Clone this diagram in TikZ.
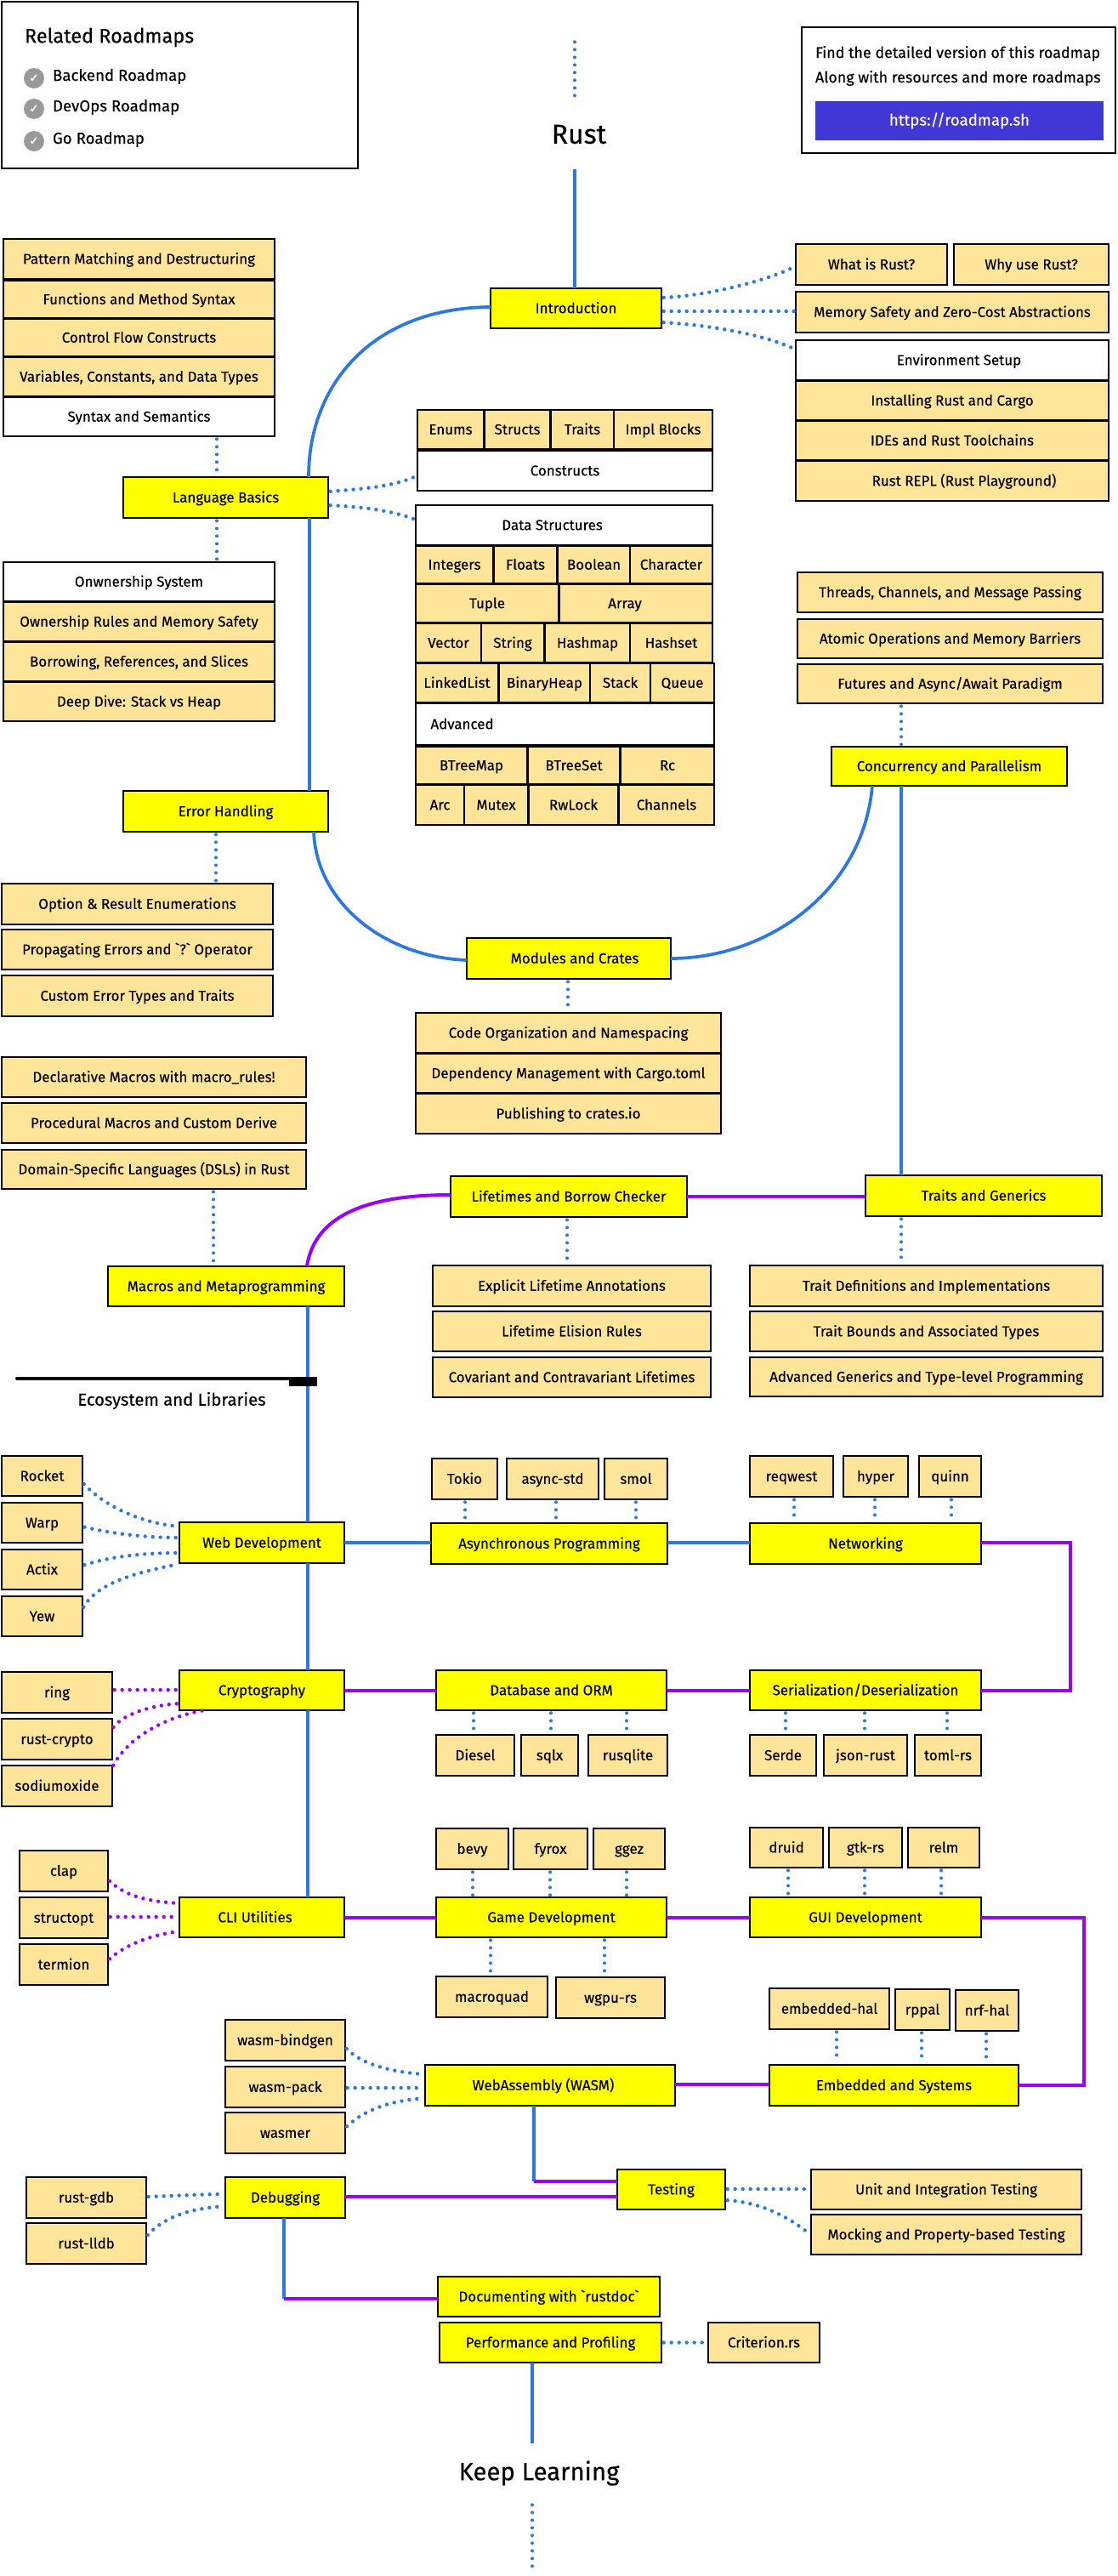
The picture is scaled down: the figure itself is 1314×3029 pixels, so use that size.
\documentclass[tikz,border=0pt]{standalone}
\usepackage{fontspec}
\newfontfamily\rf[FakeBold=0.25]{Fira Sans}
\newfontfamily\ckfont[FakeBold=1]{DejaVu Sans}
\definecolor{pch}{HTML}{FFE599}
\definecolor{yel}{HTML}{FFFF00}
\definecolor{blu}{HTML}{2B78E4}
\definecolor{pur}{HTML}{9900FF}
\definecolor{btn}{HTML}{4136D6}
\definecolor{chk}{HTML}{999999}
\newcommand\sh[1]{\kern\dimexpr 1.5pt*#1\relax}
\newcommand\bx[7]{%
  \pgfmathsetmacro\bw{(#4-#2)*0.75}%
  \pgfmathsetmacro\bh{(#5-#3)*0.75}%
  \node[#6,minimum width=\bw pt,minimum height=\bh pt] (#1) at ({(#2+#4)/2},{(#3+#5)/2}) {#7};}
\tikzset{
  basebox/.style={draw=black,line width=2pt,inner sep=0pt,outer sep=0pt,rectangle,font=\rf\fontsize{12.7}{14}\selectfont,text=black,text height=8.8pt,text depth=0.2pt},
  sub/.style={basebox,fill=pch},
  topbox/.style={basebox,fill=yel},
  wht/.style={basebox,fill=white},
  plain/.style={inner sep=0pt,outer sep=0pt,font=\rf\fontsize{14}{17}\selectfont,text=black},
  infotext/.style={plain,font=\rf\fontsize{13.4}{16}\selectfont},
  bline/.style={draw=blu,line width=2.8pt},
  pline/.style={draw=pur,line width=3pt},
  dv/.style={draw=blu,line width=3pt,line cap=round,dash pattern=on 0pt off 6.75pt,shorten <=2.5pt,shorten >=2pt},
  dcv/.style={draw=blu,line width=3.3pt,line cap=round,dash pattern=on 0pt off 6.75pt,shorten <=2pt,shorten >=1pt},
  pc/.style={draw=pur,line width=3.3pt,line cap=round,dash pattern=on 0pt off 6.75pt,shorten <=2pt,shorten >=1pt},
  tickmark/.style={circle,fill=chk,inner sep=0pt,outer sep=0pt,minimum size=18pt,text=white,font=\ckfont\fontsize{10}{10}\selectfont}
}
\begin{document}
\begin{tikzpicture}[x=0.75pt,y=-0.75pt]
\useasboundingbox[fill=white] (0,0) rectangle (1314,3029);
% blocks top
\bx{rel}{2}{2}{421}{198}{wht}{}
\node[plain,anchor=west,font=\rf\fontsize{17.6}{20}\selectfont] (relt) at (29,44) {Related Roadmaps};
\node[tickmark] (c1) at (40,92) {✓};
\node[tickmark] (c2) at (40,128) {✓};
\node[tickmark] (c3) at (40,166) {✓};
\node[plain,anchor=west] (r1) at (62,90) {Backend Roadmap};
\node[plain,anchor=west] (r2) at (62,126) {DevOps Roadmap};
\node[plain,anchor=west] (r3) at (62,164) {Go Roadmap};
\bx{info}{943}{32}{1312}{180}{wht}{}
\node[infotext,anchor=west] (i1) at (959,63) {Find the detailed version of this roadmap};
\node[infotext,anchor=west] (i2) at (959,92) {Along with resources and more roadmaps};
\bx{link}{959}{119}{1298}{165}{rectangle,fill=btn,inner sep=0pt,outer sep=0pt,text=white,font=\rf\fontsize{14}{17}\selectfont}{https://roadmap.sh}
\coordinate (rtop) at (676,46);
\coordinate (rbot) at (676,122);
\coordinate (rlow) at (676,199);
\node[plain,font=\rf\fontsize{24}{28}\selectfont] (rust) at (681,158) {Rust};
\draw[dv] (rtop) -- (rbot);
% main connectors behind boxes
\bx{intro}{577}{339}{778}{386}{topbox}{Introduction}
\draw[bline] (rlow) -- (rlow |- intro.north);
\bx{lang}{145}{561}{386}{609}{topbox}{Language Basics}
\bx{err}{145}{930}{386}{978}{topbox}{Error Handling}
\bx{mods}{549}{1103}{789}{1151}{topbox}{\sh{7}Modules and Crates}
\bx{conc}{978}{878}{1255}{924}{topbox}{Concurrency and Parallelism}
\bx{life}{530}{1383}{808}{1431}{topbox}{Lifetimes and Borrow Checker}
\bx{trai}{1018}{1382}{1296}{1430}{topbox}{Traits and Generics}
\bx{macr}{127}{1489}{405}{1536}{topbox}{Macros and Metaprogramming}
\draw[bline] (intro.west |- 0,361) .. controls (440,362) and (363,450) .. (363,0 |- lang.north);
\draw[bline] (364,0 |- lang.south) -- (364,0 |- err.north);
\draw[bline] (369,0 |- err.south) .. controls (372,1060) and (450,1125) .. (mods.west |- 0,1129);
\draw[bline] (1026,0 |- conc.south) .. controls (1015,1050) and (900,1127) .. (mods.east |- 0,1127);
\draw[bline] (1060,0 |- conc.south) -- (1060,0 |- trai.north);
\draw[pline] (361,0 |- macr.north) .. controls (370,1430) and (430,1405) .. (life.west |- 0,1405);
\draw[pline] (life.east |- 0,1407) -- (trai.west |- 0,1407);
% left column top
\bx{a1}{4}{281}{323}{328}{sub}{Pattern Matching and Destructuring}
\bx{a2}{4}{330}{323}{374}{sub}{Functions and Method Syntax}
\bx{a3}{4}{375}{323}{419}{sub}{Control Flow Constructs}
\bx{a4}{4}{420}{323}{466}{sub}{Variables, Constants, and Data Types}
\bx{a5}{4}{467}{323}{513}{wht}{Syntax and Semantics}
\bx{b1}{4}{661}{323}{707}{wht}{Onwnership System}
\bx{b2}{4}{708}{323}{754}{sub}{Ownership Rules and Memory Safety}
\bx{b3}{4}{755}{323}{801}{sub}{Borrowing, References, and Slices}
\bx{b4}{4}{802}{323}{848}{sub}{Deep Dive: Stack vs Heap}
\draw[dv] (255,0 |- a5.south) -- (255,0 |- lang.north);
\draw[dv] (255,0 |- lang.south) -- (255,0 |- b1.north);
% right top
\bx{w1}{936}{287}{1114}{335}{sub}{What is Rust?}
\bx{w2}{1122}{287}{1304}{335}{sub}{Why use Rust?}
\bx{w3}{936}{343}{1304}{391}{sub}{Memory Safety and Zero-Cost Abstractions}
\bx{w4}{936}{400}{1304}{447}{wht}{\sh{8}Environment Setup}
\bx{w5}{936}{448}{1304}{494}{sub}{Installing Rust and Cargo}
\bx{w6}{936}{495}{1304}{541}{sub}{IDEs and Rust Toolchains}
\bx{w7}{936}{542}{1304}{589}{sub}{\sh{14}Rust REPL (Rust Playground)}
\draw[dcv] (intro.east |- 0,350) .. controls (830,348) and (900,331) .. (w1.west |- 0,313);
\draw[dcv] (intro.east |- 0,366) -- (w3.west |- 0,366);
\draw[dcv] (intro.east |- 0,379) .. controls (830,382) and (895,392) .. (w4.west |- 0,411);
% threads
\bx{t1}{938}{673}{1297}{720}{sub}{Threads, Channels, and Message Passing}
\bx{t2}{938}{728}{1297}{774}{sub}{Atomic Operations and Memory Barriers}
\bx{t3}{938}{781}{1297}{827}{sub}{Futures and Async/Await Paradigm}
\draw[dv] (1060,0 |- t3.south) -- (1060,0 |- conc.north);
% constructs
\bx{e1}{491}{482}{569}{528}{sub}{Enums}
\bx{e2}{570}{482}{647}{528}{sub}{Structs}
\bx{e3}{648}{482}{722}{528}{sub}{Traits}
\bx{e4}{722}{482}{838}{528}{sub}{Impl Blocks}
\bx{cons}{491}{530}{838}{577}{wht}{Constructs}
\bx{ds}{489}{594}{838}{641}{wht}{\sh{-14}Data Structures}
\bx{d1}{489}{642}{580}{686}{sub}{Integers}
\bx{d2}{581}{642}{655}{686}{sub}{Floats}
\bx{d3}{656}{642}{741}{686}{sub}{Boolean}
\bx{d4}{741}{642}{838}{686}{sub}{Character}
\bx{d5}{489}{687}{657}{732}{sub}{Tuple}
\bx{d6}{658}{687}{838}{732}{sub}{\sh{-13}Array}
\bx{d7}{489}{733}{566}{779}{sub}{Vector}
\bx{d8}{566}{733}{640}{779}{sub}{String}
\bx{d9}{641}{733}{741}{779}{sub}{Hashmap}
\bx{d10}{741}{733}{838}{779}{sub}{Hashset}
\bx{d11}{489}{780}{586}{826}{sub}{LinkedList}
\bx{d12}{587}{780}{694}{826}{sub}{BinaryHeap}
\bx{d13}{694}{780}{765}{826}{sub}{Stack}
\bx{d14}{765}{780}{840}{826}{sub}{Queue}
\bx{adv}{489}{827}{840}{876}{wht}{\sh{-121}Advanced}
\bx{d15}{489}{878}{620}{922}{sub}{BTreeMap}
\bx{d16}{621}{878}{729}{922}{sub}{BTreeSet}
\bx{d17}{730}{878}{840}{922}{sub}{Rc}
\bx{d18}{489}{923}{546}{970}{sub}{Arc}
\bx{d19}{546}{923}{621}{970}{sub}{Mutex}
\bx{d20}{622}{923}{727}{970}{sub}{RwLock}
\bx{d21}{728}{923}{840}{970}{sub}{Channels}
\draw[dcv] (lang.east |- 0,578) .. controls (425,575) and (465,572) .. (cons.west |- 0,559);
\draw[dcv] (lang.east |- 0,594) .. controls (425,596) and (460,600) .. (ds.west |- 0,611);
% errors
\bx{f1}{2}{1039}{321}{1087}{sub}{Option \& Result Enumerations}
\bx{f2}{2}{1093}{321}{1140}{sub}{Propagating Errors and `?{}` Operator}
\bx{f3}{2}{1147}{321}{1195}{sub}{Custom Error Types and Traits}
\draw[dv] (254,0 |- err.south) -- (254,0 |- f1.north);
% modules
\bx{g1}{489}{1191}{848}{1238}{sub}{Code Organization and Namespacing}
\bx{g2}{489}{1239}{848}{1285}{sub}{Dependency Management with Cargo.toml}
\bx{g3}{489}{1286}{848}{1333}{sub}{Publishing to crates.io}
\draw[dv] (668,0 |- mods.south) -- (668,0 |- g1.north);
% macros
\bx{h1}{2}{1243}{360}{1290}{sub}{Declarative Macros with macro\_rules!}
\bx{h2}{2}{1297}{360}{1344}{sub}{Procedural Macros and Custom Derive}
\bx{h3}{2}{1352}{360}{1398}{sub}{Domain-Specific Languages (DSLs) in Rust}
\draw[dv] (251,0 |- h3.south) -- (251,0 |- macr.north);
% lifetimes, traits
\bx{j1}{509}{1488}{836}{1536}{sub}{Explicit Lifetime Annotations}
\bx{j2}{509}{1542}{836}{1589}{sub}{Lifetime Elision Rules}
\bx{j3}{509}{1596}{836}{1643}{sub}{Covariant and Contravariant Lifetimes}
\bx{k1}{882}{1488}{1297}{1536}{sub}{Trait Definitions and Implementations}
\bx{k2}{882}{1542}{1297}{1589}{sub}{Trait Bounds and Associated Types}
\bx{k3}{882}{1596}{1297}{1642}{sub}{Advanced Generics and Type-level Programming}
\draw[dv] (667,0 |- life.south) -- (667,0 |- j1.north);
\draw[dv] (1060,0 |- trai.south) -- (1060,0 |- k1.north);
% ecosystem heading
\coordinate (el) at (20,1621);
\coordinate (er) at (370,1621);
\draw[black,line width=3pt,line cap=round] (el) -- (er);
\node[plain,font=\rf\fontsize{15.2}{18}\selectfont] (eco) at (202,1647) {Ecosystem and Libraries};
% row 1
\bx{web}{211}{1790}{405}{1838}{topbox}{Web Development}
\bx{asy}{507}{1791}{785}{1839}{topbox}{Asynchronous Programming}
\bx{net}{882}{1791}{1154}{1839}{topbox}{Networking}
\bx{cry}{211}{1964}{405}{2011}{topbox}{Cryptography}
\bx{dbo}{513}{1964}{784}{2011}{topbox}{Database and ORM}
\bx{ser}{882}{1964}{1154}{2011}{topbox}{Serialization/Deserialization}
\bx{cli}{211}{2231}{405}{2278}{topbox}{\sh{-8}CLI Utilities}
\bx{gam}{513}{2231}{784}{2278}{topbox}{Game Development}
\bx{gui}{882}{2231}{1154}{2278}{topbox}{GUI Development}
\bx{wam}{500}{2428}{794}{2476}{topbox}{\sh{-8}WebAssembly (WASM)}
\bx{emb}{905}{2428}{1198}{2476}{topbox}{Embedded and Systems}
\draw[bline] (362,0 |- macr.south) -- (362,0 |- web.north);
\node[rectangle,fill=black,inner sep=0pt,outer sep=0pt,minimum width=24.75pt,minimum height=8.25pt] (ebar) at (356.5,1624.5) {};
\draw[bline] (362,0 |- web.south) -- (362,0 |- cry.north);
\draw[bline] (362,0 |- cry.south) -- (362,0 |- cli.north);
\draw[bline,line width=3pt] (web.east |- 0,1814) -- (asy.west |- 0,1814);
\draw[bline,line width=3pt] (asy.east |- 0,1814) -- (net.west |- 0,1814);
\draw[pline] (net.east |- 0,1814) -| (1259,0 |- ser.east) -- (ser.east);
\draw[pline] (cry.east) -- (dbo.west);
\draw[pline] (dbo.east) -- (ser.west);
\draw[pline] (cli.east) -- (gam.west);
\draw[pline] (gam.east) -- (gui.west);
\draw[pline] (gui.east) -| (1275,0 |- emb.east) -- (emb.east);
\draw[pline] (wam.east |- 0,2451) -- (emb.west |- 0,2451);
% web
\bx{l1}{2}{1712}{97}{1759}{sub}{Rocket}
\bx{l2}{2}{1767}{97}{1814}{sub}{Warp}
\bx{l3}{2}{1822}{97}{1869}{sub}{Actix}
\bx{l4}{2}{1877}{97}{1924}{sub}{Yew}
\draw[dcv] (l1.east |- 0,1743) .. controls (120,1768) and (160,1790) .. (web.west |- 0,1795);
\draw[dcv] (l2.east |- 0,1795) .. controls (130,1803) and (170,1808) .. (web.west |- 0,1808);
\draw[dcv] (l3.east |- 0,1841) .. controls (130,1830) and (170,1826) .. (web.west |- 0,1826);
\draw[dcv] (l4.east |- 0,1892) .. controls (115,1860) and (165,1848) .. (web.west |- 0,1839);
% async
\bx{m1}{508}{1715}{585}{1763}{sub}{Tokio}
\bx{m2}{596}{1715}{704}{1763}{sub}{async-std}
\bx{m3}{711}{1715}{785}{1763}{sub}{smol}
\draw[dv] (547,0 |- m1.south) -- (547,0 |- asy.north);
\draw[dv] (654,0 |- m2.south) -- (654,0 |- asy.north);
\draw[dv] (748,0 |- m3.south) -- (748,0 |- asy.north);
\bx{n1}{882}{1712}{980}{1760}{sub}{reqwest}
\bx{n2}{992}{1712}{1068}{1760}{sub}{hyper}
\bx{n3}{1081}{1712}{1154}{1760}{sub}{quinn}
\draw[dv] (934,0 |- n1.south) -- (934,0 |- net.north);
\draw[dv] (1029,0 |- n2.south) -- (1029,0 |- net.north);
\draw[dv] (1119,0 |- n3.south) -- (1119,0 |- net.north);
% crypto
\bx{o1}{2}{1966}{132}{2014}{sub}{ring}
\bx{o2}{2}{2021}{132}{2069}{sub}{rust-crypto}
\bx{o3}{2}{2076}{132}{2124}{sub}{sodiumoxide}
\draw[pc] (o1.east |- 0,1987) -- (cry.west |- 0,1987);
\draw[pc] (o2.east |- 0,2033) .. controls (145,2015) and (180,2005) .. (cry.west |- 0,2003);
\draw[pc] (o3.east |- 0,2078) .. controls (150,2045) and (190,2020) .. (240,0 |- cry.south);
\bx{q1}{513}{2040}{605}{2088}{sub}{Diesel}
\bx{q2}{613}{2040}{680}{2088}{sub}{sqlx}
\bx{q3}{692}{2040}{785}{2088}{sub}{rusqlite}
\draw[dv] (557,0 |- dbo.south) -- (557,0 |- q1.north);
\draw[dv] (648,0 |- dbo.south) -- (648,0 |- q2.north);
\draw[dv] (737,0 |- dbo.south) -- (737,0 |- q3.north);
\bx{s1}{882}{2040}{960}{2088}{sub}{Serde}
\bx{s2}{969}{2040}{1067}{2088}{sub}{json-rust}
\bx{s3}{1076}{2040}{1154}{2088}{sub}{toml-rs}
\draw[dv] (924,0 |- ser.south) -- (924,0 |- s1.north);
\draw[dv] (1017,0 |- ser.south) -- (1017,0 |- s2.north);
\draw[dv] (1114,0 |- ser.south) -- (1114,0 |- s3.north);
% cli
\bx{u1}{23}{2176}{127}{2224}{sub}{clap}
\bx{u2}{23}{2231}{127}{2279}{sub}{structopt}
\bx{u3}{23}{2286}{127}{2334}{sub}{termion}
\draw[pc] (u1.east |- 0,2210) .. controls (150,2232) and (180,2236) .. (cli.west |- 0,2238);
\draw[pc] (u2.east |- 0,2254) -- (cli.west |- 0,2254);
\draw[pc] (u3.east |- 0,2305) .. controls (150,2285) and (180,2275) .. (cli.west |- 0,2271);
% game
\bx{v1}{513}{2150}{598}{2198}{sub}{bevy}
\bx{v2}{604}{2150}{691}{2198}{sub}{fyrox}
\bx{v3}{698}{2150}{782}{2198}{sub}{ggez}
\draw[dv] (556,0 |- v1.south) -- (556,0 |- gam.north);
\draw[dv] (647,0 |- v2.south) -- (647,0 |- gam.north);
\draw[dv] (737,0 |- v3.south) -- (737,0 |- gam.north);
\bx{x1}{882}{2149}{968}{2196}{sub}{druid}
\bx{x2}{975}{2149}{1061}{2196}{sub}{gtk-rs}
\bx{x3}{1068}{2149}{1152}{2196}{sub}{relm}
\draw[dv] (927,0 |- x1.south) -- (927,0 |- gui.north);
\draw[dv] (1017,0 |- x2.south) -- (1017,0 |- gui.north);
\draw[dv] (1107,0 |- x3.south) -- (1107,0 |- gui.north);
\bx{y1}{513}{2324}{644}{2372}{sub}{macroquad}
\bx{y2}{654}{2325}{782}{2373}{sub}{wgpu-rs}
\draw[dv] (577,0 |- gam.south) -- (577,0 |- y1.north);
\draw[dv] (711,0 |- gam.south) -- (711,0 |- y2.north);
% embedded
\bx{z1}{905}{2338}{1046}{2386}{sub}{embedded-hal}
\bx{z2}{1053}{2339}{1117}{2387}{sub}{rppal}
\bx{z3}{1124}{2340}{1198}{2388}{sub}{nrf-hal}
\draw[dv] (984,0 |- z1.south) -- (984,0 |- emb.north);
\draw[dv] (1084,0 |- z2.south) -- (1084,0 |- emb.north);
\draw[dv] (1160,0 |- z3.south) -- (1160,0 |- emb.north);
% wasm
\bx{aa1}{265}{2375}{406}{2423}{sub}{wasm-bindgen}
\bx{aa2}{265}{2430}{406}{2478}{sub}{wasm-pack}
\bx{aa3}{265}{2484}{406}{2532}{sub}{wasmer}
\draw[dcv] (aa1.east |- 0,2407) .. controls (425,2428) and (465,2437) .. (wam.west |- 0,2439);
\draw[dcv] (aa2.east |- 0,2455) -- (wam.west |- 0,2455);
\draw[dcv] (aa3.east |- 0,2502) .. controls (430,2480) and (460,2470) .. (wam.west |- 0,2467);
% testing & debugging
\bx{tes}{726}{2551}{853}{2598}{topbox}{Testing}
\bx{dbg}{265}{2560}{406}{2608}{topbox}{Debugging}
\coordinate (wc) at (628,2565);
\draw[bline] (wc |- wam.south) -- (wc);
\draw[pline] (wc) -- (tes.west |- wc);
\draw[pline] (dbg.east |- 0,2583) -- (tes.west |- 0,2583);
\bx{ab1}{31}{2560}{172}{2608}{sub}{rust-gdb}
\bx{ab2}{31}{2614}{172}{2662}{sub}{rust-lldb}
\draw[dcv] (ab1.east |- 0,2583) .. controls (205,2582) and (240,2580) .. (dbg.west |- 0,2580);
\draw[dcv] (ab2.east |- 0,2630) .. controls (195,2605) and (225,2597) .. (dbg.west |- 0,2594);
\bx{ac1}{954}{2551}{1272}{2598}{sub}{Unit and Integration Testing}
\bx{ac2}{954}{2604}{1272}{2651}{sub}{Mocking and Property-based Testing}
\draw[dcv] (tes.east |- 0,2574) -- (ac1.west |- 0,2574);
\draw[dcv] (tes.east |- 0,2587) .. controls (895,2590) and (925,2605) .. (ac2.west |- 0,2628);
% doc, perf
\bx{doc}{515}{2677}{776}{2724}{topbox}{Documenting with `rustdoc`}
\bx{prf}{517}{2731}{778}{2778}{topbox}{Performance and Profiling}
\bx{crt}{833}{2731}{964}{2778}{sub}{Criterion.rs}
\coordinate (dc2) at (334,2703);
\draw[bline] (dc2 |- dbg.south) -- (dc2);
\draw[pline] (dc2) -- (doc.west |- dc2);
\draw[dcv] (prf.east) -- (crt.west);
\coordinate (kt) at (626,2873);
\coordinate (kb) at (626,2942);
\coordinate (ke) at (626,3025);
\draw[bline] (kt |- prf.south) -- (kt);
\node[plain,font=\rf\fontsize{22}{25}\selectfont] (keep) at (634,2908) {Keep Learning};
\draw[dv] (kb) -- (ke);
\end{tikzpicture}
\end{document}
